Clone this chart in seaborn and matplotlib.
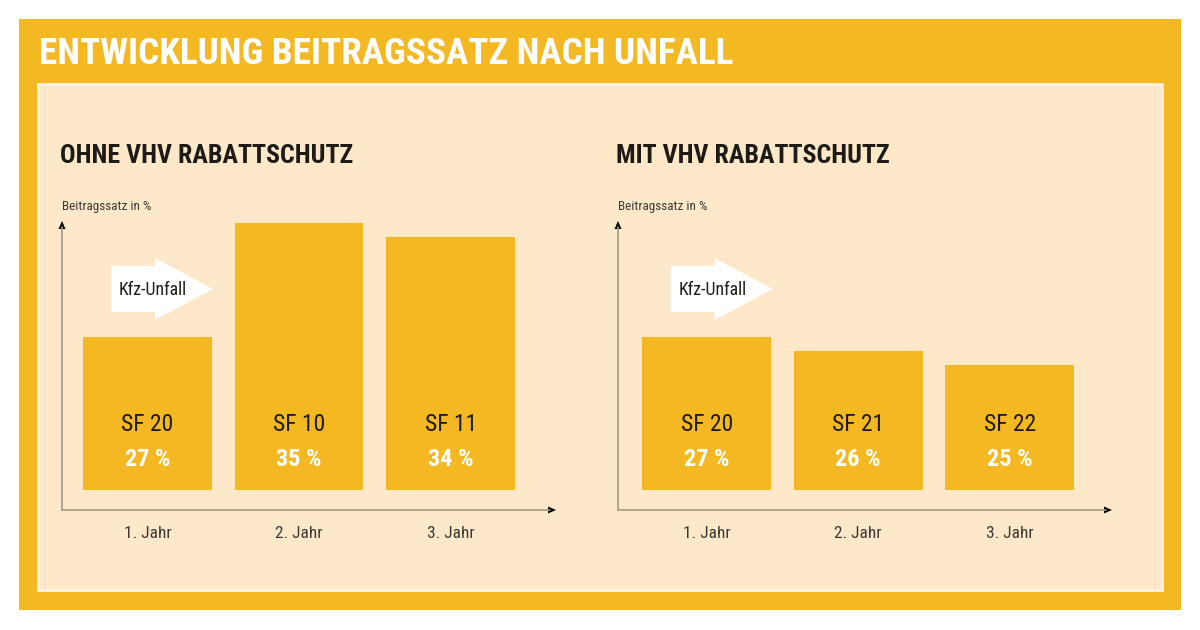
import matplotlib
matplotlib.use("Agg")
import matplotlib.pyplot as plt
from matplotlib.patches import Rectangle, Polygon
from matplotlib.lines import Line2D
import seaborn as sns

# ---------------- data ----------------
categories = ["1. Jahr", "2. Jahr", "3. Jahr"]
ohne_values = [27, 35, 34]
ohne_classes = ["SF 20", "SF 10", "SF 11"]
mit_values = [27, 26, 25]
mit_classes = ["SF 20", "SF 21", "SF 22"]

title = "ENTWICKLUNG BEITRAGSSATZ NACH UNFALL"
sub_left = "OHNE VHV RABATTSCHUTZ"
sub_right = "MIT VHV RABATTSCHUTZ"
y_label = "Beitragssatz in %"
event_label = "Kfz-Unfall"

# ---------------- style ----------------
YELLOW = "#F4B823"
CREAM = "#FDE9C9"
CREAM_EDGE = "#FFF4E2"
DARK = "#1E1A16"
GREY = "#3C3833"
AXIS = "#A59985"
COND = ["Liberation Sans Narrow", "Roboto Condensed", "DejaVu Sans Condensed", "DejaVu Sans"]

sns.set_theme(style="white")
plt.rcParams["font.family"] = COND

W, H = 1200, 630
fig = plt.figure(figsize=(W / 100, H / 100), dpi=100)
fig.patch.set_facecolor("white")


def fx(x):
    return x / W


def fy(y_top):
    return 1 - y_top / H


def rect(x0, y0, x1, y1, **kw):
    r = Rectangle((fx(x0), fy(y1)), fx(x1) - fx(x0), fy(y0) - fy(y1),
                  transform=fig.transFigure, **kw)
    fig.add_artist(r)
    return r


# frame and panel
rect(19, 19, 1181, 610, facecolor=YELLOW, edgecolor="none", zorder=-10)
rect(38, 84, 1162, 590, facecolor=CREAM, edgecolor=CREAM_EDGE, linewidth=2, zorder=-9)

fig.text(fx(39), fy(63.5), title, color="white", fontsize=26.7, fontweight="bold",
         ha="left", va="baseline")

# bar geometry (pixels)
BAR_BOTTOM = 490
AX_TOP = 210
Y0 = 16.2
PX_PER_PCT = 14.2
SLOT = 151.5
panels = [
    dict(values=ohne_values, classes=ohne_classes, sub=sub_left, first_center=147.6,
         yaxis_x=62, sub_x=60, arrow_x=111),
    dict(values=mit_values, classes=mit_classes, sub=sub_right, first_center=706.8,
         yaxis_x=618, sub_x=616, arrow_x=670.7),
]

for p in panels:
    left = p["first_center"] - SLOT / 2
    ax = fig.add_axes([fx(left), fy(BAR_BOTTOM), fx(3 * SLOT), (BAR_BOTTOM - AX_TOP) / H])
    sns.barplot(x=categories, y=p["values"], ax=ax, color=YELLOW, saturation=1,
                width=0.85, linewidth=0)
    ax.set_ylim(Y0, Y0 + (BAR_BOTTOM - AX_TOP) / PX_PER_PCT)
    ax.set_xlim(-0.5, 2.5)
    ax.set_facecolor("none")
    for s in ax.spines.values():
        s.set_visible(False)
    ax.set_yticks([])
    ax.set_ylabel("")
    ax.set_xlabel("")
    ax.tick_params(axis="x", length=0, pad=26, labelsize=12.5, labelcolor=GREY)
    for lab in ax.get_xticklabels():
        lab.set_family(COND)
    tr = ax.get_xaxis_transform()
    for i, (v, c) in enumerate(zip(p["values"], p["classes"])):
        ax.text(i, (BAR_BOTTOM - 430.7) / (BAR_BOTTOM - AX_TOP), c, transform=tr,
                ha="center", va="baseline", fontsize=17, color=DARK)
        ax.text(i, (BAR_BOTTOM - 465.5) / (BAR_BOTTOM - AX_TOP), f"{v} %", transform=tr,
                ha="center", va="baseline", fontsize=17.5, fontweight="bold", color="white")

    # subtitle and axis label
    fig.text(fx(p["sub_x"]), fy(162.7), p["sub"], color=DARK, fontsize=18.6,
             fontweight="bold", ha="left", va="baseline")
    ax0 = p["yaxis_x"]
    fig.text(fx(ax0), fy(210.5), y_label, color=GREY, fontsize=9.5, ha="left", va="baseline")

    # axis lines with arrow heads
    fig.add_artist(Line2D([fx(ax0), fx(ax0)], [fy(510), fy(227)], color=AXIS, lw=1.2,
                          transform=fig.transFigure))
    fig.add_artist(Line2D([fx(ax0), fx(ax0 + 488)], [fy(510), fy(510)], color=AXIS, lw=1.2,
                          transform=fig.transFigure))
    fig.add_artist(Polygon([(fx(ax0), fy(221)), (fx(ax0 - 3.5), fy(229)), (fx(ax0 + 3.5), fy(229))],
                           closed=True, facecolor="black", edgecolor="none",
                           transform=fig.transFigure))
    fig.add_artist(Polygon([(fx(ax0 + 494), fy(510)), (fx(ax0 + 486), fy(506.5)),
                            (fx(ax0 + 486), fy(513.5))],
                           closed=True, facecolor="black", edgecolor="none",
                           transform=fig.transFigure))

    # Kfz-Unfall arrow
    a = p["arrow_x"]
    pts = [(a, 266), (a + 44, 266), (a + 44, 258), (a + 102, 289), (a + 44, 320),
           (a + 44, 312), (a, 312)]
    fig.add_artist(Polygon([(fx(x), fy(y)) for x, y in pts], closed=True,
                           facecolor="white", edgecolor="none", transform=fig.transFigure))
    fig.text(fx(a + 42), fy(295), event_label, color=DARK, fontsize=12.8,
             ha="center", va="baseline")

fig.savefig("out.png", dpi=100, facecolor=fig.get_facecolor())
